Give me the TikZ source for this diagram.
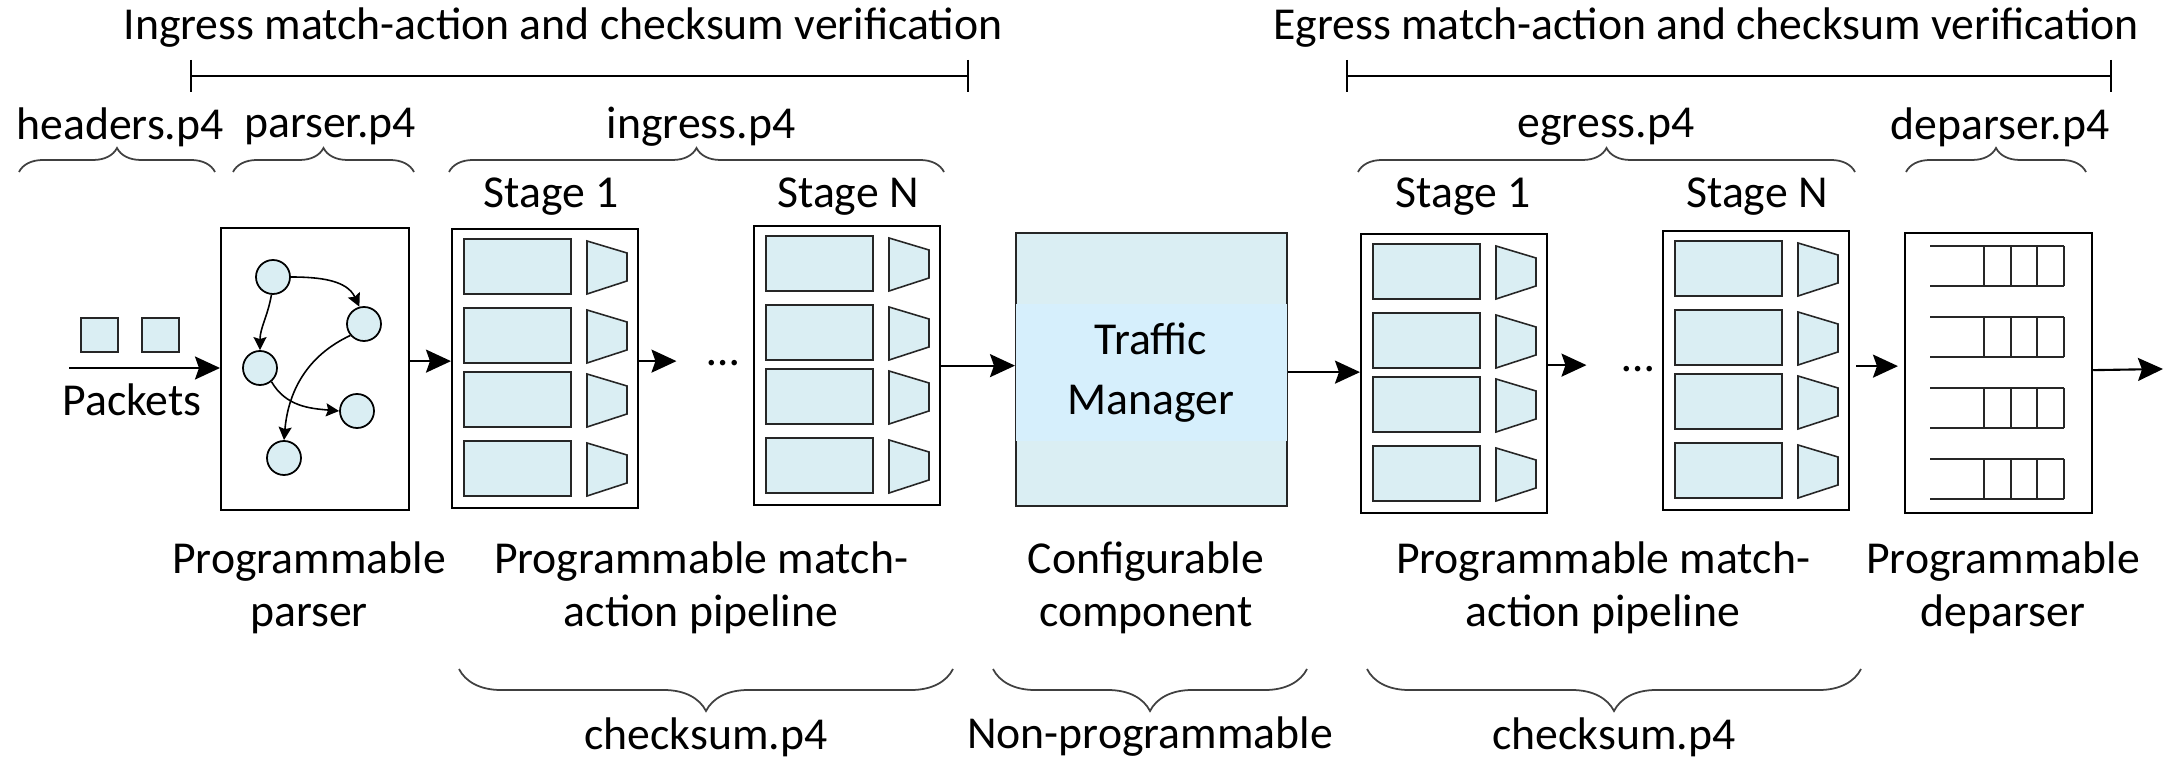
\documentclass[tikz,border=0pt]{standalone}
\usepackage{fontspec}
\setmainfont{Carlito}
\usetikzlibrary{arrows.meta,decorations.pathreplacing,calc}
\definecolor{lb}{RGB}{218,238,243}
\definecolor{tmband}{RGB}{214,239,252}
\newcommand\stagefill[1]{%
  \foreach \o in {11,80,144,213}{%
    \draw[inbox] ([shift={(13,-\o)}]#1.north west) rectangle ++(107,-55);
    \draw[trap] ([shift={(136,-\o-2)}]#1.north west) -- ++(40,-12) -- ++(0,-28) -- ++(-40,-13) -- cycle;
  }}
\newcommand\queuefill[1]{%
  \foreach \o in {14,85,156,227}{%
    \draw[qline] ([shift={(26,-\o)}]#1.north west) -- ++(134,0);
    \draw[qline] ([shift={(26,-\o-40)}]#1.north west) -- ++(134,0);
    \foreach \v in {80,107,133,160}{%
      \draw[qline] ([shift={(\v,-\o)}]#1.north west) -- ++(0,-40);
    }
  }}
\begin{document}
\begin{tikzpicture}[x=0.01cm,y=0.01cm,
 lbl/.style={font=\fontsize{13}{15}\selectfont, inner sep=0pt, align=center},
 tmlbl/.style={font=\fontsize{13}{17}\selectfont, inner sep=0pt, align=center},
 stagebox/.style={draw=black, line width=0.6pt, fill=white, minimum width=1.86cm, minimum height=2.79cm, inner sep=0pt, anchor=north west},
 inbox/.style={draw=black!85, fill=lb, line width=0.55pt},
 trap/.style={draw=black!85, fill=lb, line width=0.45pt},
 arr/.style={line width=0.6pt, -{Stealth[length=0.25cm,width=0.23cm,inset=0.04cm]}},
 parr/.style={line width=0.45pt, -{Stealth[length=0.13cm,width=0.13cm,inset=0.02cm]}},
 circ/.style={circle, draw, fill=lb, line width=0.5pt, minimum size=0.34cm, inner sep=0pt},
 topbrace/.style={decorate, decoration={brace, amplitude=0.24cm}, line width=0.5pt, draw=black!75},
 botbrace/.style={decorate, decoration={brace, amplitude=0.42cm}, line width=0.5pt, draw=black!75},
 qline/.style={line width=0.5pt, draw=black!85},
 brk/.style={line width=0.6pt},
 pkt/.style={draw=black!85, fill=lb, line width=0.55pt, minimum width=0.37cm, minimum height=0.34cm, inner sep=0pt}
]
\useasboundingbox (0,0) rectangle (2169,-758);

% titles and brackets
\node[lbl] (tin) at (563,-28) {Ingress match-action and checksum verification};
\node[lbl] (teg) at (1706,-28) {Egress match-action and checksum verification};
\coordinate (bi1) at (191,-76); \coordinate (bi2) at (968,-76);
\coordinate (be1) at (1347,-76); \coordinate (be2) at (2111,-76);
\draw[brk] (bi1) -- (bi2);
\draw[brk] ([yshift=0.16cm]bi1) -- ([yshift=-0.16cm]bi1);
\draw[brk] ([yshift=0.16cm]bi2) -- ([yshift=-0.16cm]bi2);
\draw[brk] (be1) -- (be2);
\draw[brk] ([yshift=0.16cm]be1) -- ([yshift=-0.16cm]be1);
\draw[brk] ([yshift=0.16cm]be2) -- ([yshift=-0.16cm]be2);

% file labels and braces
\node[lbl] (fh) at (120,-127) {headers.p4};
\node[lbl] (fp) at (330,-127) {parser.p4};
\node[lbl] (fi) at (701,-127) {ingress.p4};
\node[lbl] (fe) at (1606,-127) {egress.p4};
\node[lbl] (fd) at (2000,-127) {deparser.p4};
\draw[topbrace] (19,-172) -- (215,-172);
\draw[topbrace] (233,-172) -- (414,-172);
\draw[topbrace] (449,-172) -- (944,-172);
\draw[topbrace] (1358,-172) -- (1855,-172);
\draw[topbrace] (1906,-172) -- (2086,-172);

% stage labels
\node[lbl] (s1i) at (551,-197) {Stage 1};
\node[lbl] (sni) at (848,-197) {Stage N};
\node[lbl] (s1e) at (1463,-197) {Stage 1};
\node[lbl] (sne) at (1757,-197) {Stage N};

% packets
\node[pkt] (pk1) at (99.5,-335) {};
\node[pkt] (pk2) at (160.5,-335) {};
\node[lbl] (pkl) at (132,-400) {Packets};

% parser
\node[draw=black, line width=0.6pt, fill=white, minimum width=1.88cm, minimum height=2.82cm, inner sep=0pt, anchor=north west] (P) at (220,-227) {};
\node[circ] (c1) at (273,-277) {};
\node[circ] (c2) at (364,-324) {};
\node[circ] (c3) at (260,-368) {};
\node[circ] (c4) at (357,-411) {};
\node[circ] (c5) at (284,-458) {};
\draw[parr] (c1.east) to[out=0,in=115] (c2.105);
\draw[parr] (c1.265) to[out=-100,in=90] (c3.north);
\draw[parr] (c3.-50) to[out=-60,in=175] (c4.west);
\draw[parr] (c2.220) to[out=205,in=85] (c5.north);

% stages
\node[stagebox] (I1) at (451,-228) {};
\node[stagebox] (IN) at (753,-225) {};
\node[stagebox] (E1) at (1360,-233) {};
\node[stagebox] (EN) at (1662,-230) {};
\stagefill{I1}
\stagefill{IN}
\stagefill{E1}
\stagefill{EN}
\node[lbl] (d1) at (723,-363) {\ldots};
\node[lbl] (d2) at (1638,-369) {\ldots};

% traffic manager
\node[draw=black!85, line width=0.6pt, fill=lb, minimum width=2.71cm, minimum height=2.73cm, inner sep=0pt, anchor=north west] (TM) at (1015,-232) {};
\fill[tmband] ([shift={(0.4pt,-0.72cm)}]TM.north west) rectangle ([shift={(-0.4pt,0.66cm)}]TM.south east);
\node[tmlbl] (tmt) at (1151,-373) {Traffic\\Manager};

% deparser
\node[draw=black, line width=0.6pt, fill=white, minimum width=1.87cm, minimum height=2.80cm, inner sep=0pt, anchor=north west] (D) at (1904,-232) {};
\queuefill{D}

% connectors
\coordinate (pin) at (69,-368);
\coordinate (pout) at (2163,-369);
\draw[arr] (pin) -- (pin -| P.west);
\draw[arr] ([yshift=0.08cm]P.east) -- ([yshift=0.08cm]P.east -| I1.west);
\draw[arr, shorten >=0.3cm] ([yshift=0.075cm]I1.east) -- ([yshift=0.075cm]I1.east -| d1.west);
\draw[arr] (IN.east) -- (IN.east -| TM.west);
\draw[arr] ([yshift=-0.025cm]TM.east) -- ([yshift=-0.025cm]TM.east -| E1.west);
\draw[arr, shorten >=0.35cm] ([yshift=0.085cm]E1.east) -- ([yshift=0.085cm]E1.east -| d2.west);
\draw[arr, shorten <=0.06cm, shorten >=0.06cm] ([yshift=0.045cm]EN.east) -- ([yshift=0.045cm]EN.east -| D.west);
\draw[arr] ([yshift=0.03cm]D.east) -- (pout);

% bottom labels
\node[lbl] (lp) at (309,-588) {Programmable\\parser};
\node[lbl] (lim) at (701,-588) {Programmable match-\\action pipeline};
\node[lbl] (lc) at (1146,-588) {Configurable\\component};
\node[lbl] (lem) at (1603,-588) {Programmable match-\\action pipeline};
\node[lbl] (ld) at (2003,-588) {Programmable\\deparser};

% bottom braces
\draw[botbrace] (953,-669) -- (459,-669);
\draw[botbrace] (1307,-669) -- (993,-669);
\draw[botbrace] (1861,-669) -- (1367,-669);
\node[lbl] (ci) at (706,-737) {checksum.p4};
\node[lbl] (np) at (1150,-737) {Non-programmable};
\node[lbl] (ce) at (1614,-737) {checksum.p4};
\end{tikzpicture}
\end{document}
